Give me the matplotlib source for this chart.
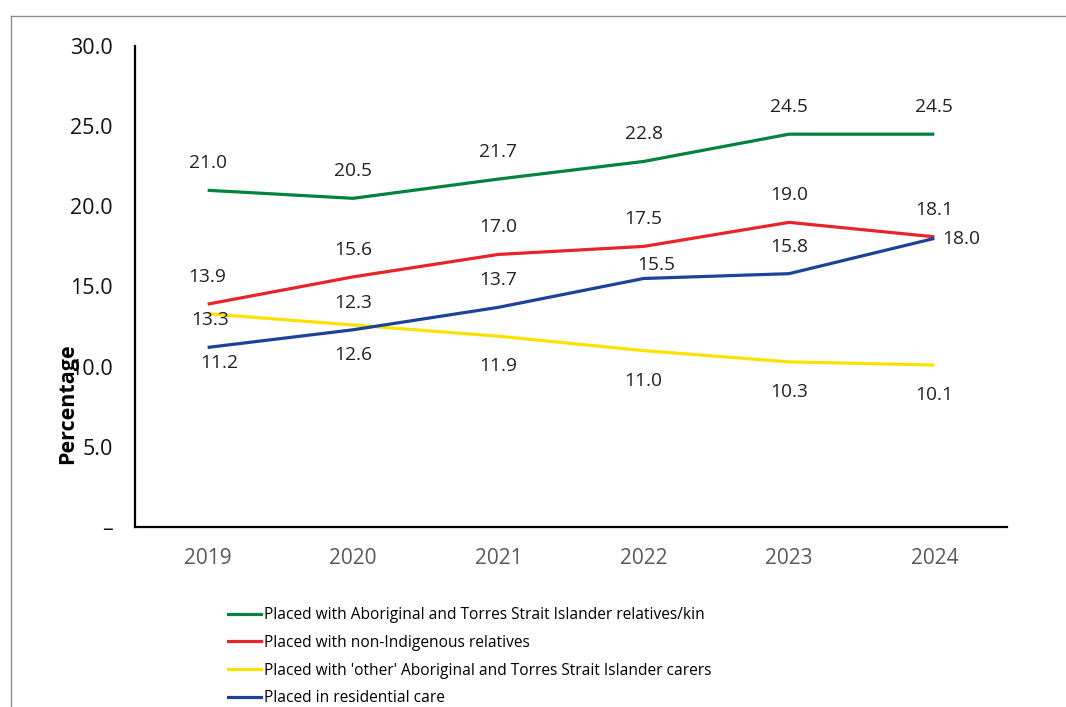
import matplotlib
matplotlib.use("Agg")
import matplotlib.pyplot as plt
from matplotlib.lines import Line2D
from matplotlib.ticker import FuncFormatter

years = ["2019", "2020", "2021", "2022", "2023", "2024"]
kin = [21.0, 20.5, 21.7, 22.8, 24.5, 24.5]
non_indigenous = [13.9, 15.6, 17.0, 17.5, 19.0, 18.1]
other_carers = [13.3, 12.6, 11.9, 11.0, 10.3, 10.1]
residential = [11.2, 12.3, 13.7, 15.5, 15.8, 18.0]

series_names = [
    "Placed with Aboriginal and Torres Strait Islander relatives/kin",
    "Placed with non-Indigenous relatives",
    "Placed with 'other' Aboriginal and Torres Strait Islander carers",
    "Placed in residential care",
]
series_values = [kin, non_indigenous, other_carers, residential]
series_colors = ["#00843D", "#E8232A", "#FFE100", "#1E4396"]

# label offsets in pixels (dx, dy) for each point
ABOVE, BELOW = 27, -30
label_offsets = [
    [(0, ABOVE)] * 6,
    [(0, ABOVE)] * 6,
    [(2, -6), (0, BELOW), (0, BELOW), (0, BELOW), (0, BELOW), (0, BELOW)],
    [(12, -16), (0, ABOVE), (0, ABOVE), (13, 13), (0, ABOVE), (27, -1)],
]

FONT = ["Open Sans", "DejaVu Sans"]
plt.rcParams["font.family"] = FONT

fig = plt.figure(figsize=(10.66, 7.07), dpi=100)
W, H = 1066, 707
ax = fig.add_axes([135 / W, 1 - 527 / H, (1007 - 135) / W, (527 - 46) / H])

x = list(range(len(years)))
for values, name, color, offsets in zip(series_values, series_names, series_colors, label_offsets):
    ax.plot(x, values, color=color, lw=2.3, label=name, solid_joinstyle="round", solid_capstyle="butt")
    for xi, v, (dx, dy) in zip(x, values, offsets):
        ax.annotate("{:.1f}".format(v), (xi, v), xytext=(dx, dy), textcoords="offset pixels",
                    ha="center", va="center", fontsize=13.8, color="#222222")

ax.set_xlim(-0.5, len(years) - 0.5)
ax.set_ylim(0, 30)
ax.set_yticks([0, 5, 10, 15, 20, 25, 30])
ax.yaxis.set_major_formatter(FuncFormatter(lambda v, _: "\u2013" if v == 0 else "{:.1f}".format(v)))
ax.set_xticks(x)
ax.set_xticklabels(years)
ax.tick_params(axis="y", length=0, pad=16, labelsize=15.5, labelcolor="#111111")
ax.tick_params(axis="x", length=0, pad=15, labelsize=15, labelcolor="#595959")
for side in ("top", "right"):
    ax.spines[side].set_visible(False)
for side in ("left", "bottom"):
    ax.spines[side].set_linewidth(1.6)
    ax.spines[side].set_color("black")

fig.text(68 / W, 1 - 404 / H, "Percentage", rotation=90, ha="center", va="center",
         fontsize=15.5, fontweight="bold", color="black")

handles = [Line2D([], [], color=c, lw=2.3) for c in series_colors]
fig.legend(handles, series_names, loc="upper left", bbox_to_anchor=(228 / W, 1 - 607 / H),
           frameon=False, borderpad=0, borderaxespad=0, handlelength=2.1, handletextpad=0.2,
           labelspacing=0.76, prop={"size": 11.2})

# chart frame
fig.add_artist(Line2D([11 / W, 1], [1 - 16 / H, 1 - 16 / H], color="#8C8C8C", lw=1.0))
fig.add_artist(Line2D([11 / W, 11 / W], [0, 1 - 16 / H], color="#8C8C8C", lw=1.0))

fig.savefig("out.png", dpi=100)
